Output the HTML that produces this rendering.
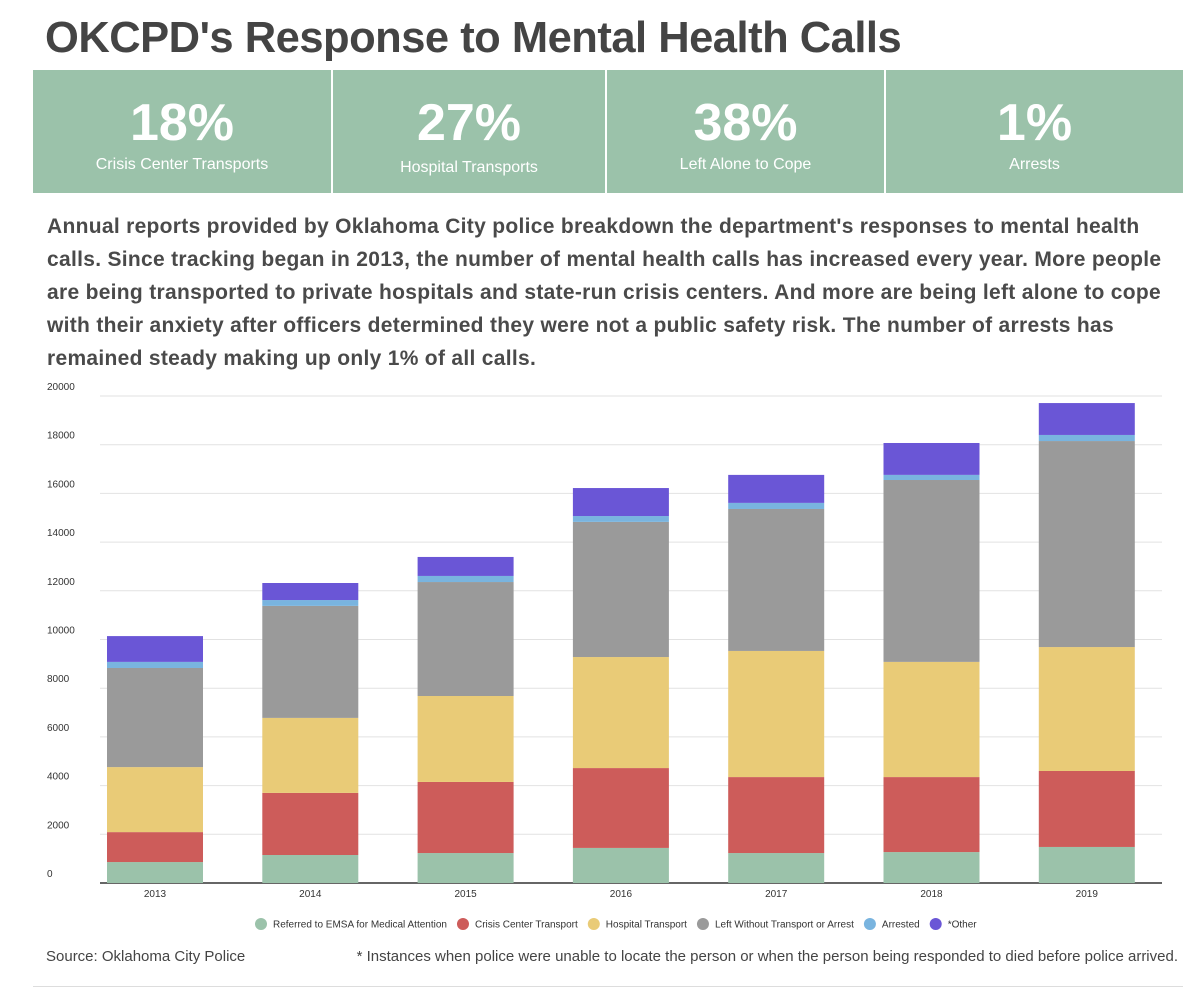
<!DOCTYPE html>
<html><head><meta charset="utf-8"><style>
body{margin:0;width:1200px;height:988px;background:#fff;font-family:"Liberation Sans",sans-serif;color:#444;position:relative;overflow:hidden}
#title{position:absolute;left:45px;top:14px;font-size:43.5px;font-weight:bold;margin:0;letter-spacing:-0.5px}
#panel{position:absolute;left:33px;top:70px;width:1150px;height:123px;background:#9bc2aa;display:flex}
.stat{border-left:2px solid #fff;color:#fff;text-align:center;box-sizing:border-box}
.stat:first-child{border-left:none}
.big{font-size:52px;font-weight:bold;margin-top:24px;line-height:58px}
.lab{font-size:16px;margin-top:4px}
#desc{position:absolute;left:47px;top:210px;font-size:21px;line-height:33px;margin:0;white-space:nowrap;letter-spacing:0.3px;font-weight:bold;color:#4a4a4a}
#src{position:absolute;left:46px;top:948px;font-size:15px}
#note{position:absolute;right:22px;top:948px;font-size:15px}
#rule{position:absolute;left:33px;top:986px;width:1150px;height:1px;background:#ddd}
</style></head><body>
<h1 id="title">OKCPD's Response to Mental Health Calls</h1>
<div id="panel">
<div class="stat" style="width:298px"><div class="big">18%</div><div class="lab">Crisis Center Transports</div></div>
<div class="stat" style="width:274px"><div class="big">27%</div><div class="lab" style="margin-top:7px">Hospital Transports</div></div>
<div class="stat" style="width:279px"><div class="big">38%</div><div class="lab">Left Alone to Cope</div></div>
<div class="stat" style="width:299px"><div class="big">1%</div><div class="lab">Arrests</div></div>
</div>
<p id="desc">Annual reports provided by Oklahoma City police breakdown the department's responses to mental health<br>calls. Since tracking began in 2013, the number of mental health calls has increased every year. More people<br>are being transported to private hospitals and state-run crisis centers. And more are being left alone to cope<br>with their anxiety after officers determined they were not a public safety risk. The number of arrests has<br>remained steady making up only 1% of all calls.</p>
<svg id="chart" width="1200" height="988" style="position:absolute;left:0;top:0"></svg>
<div id="src">Source: Oklahoma City Police</div>
<div id="note">* Instances when police were unable to locate the person or when the person being responded to died before police arrived.</div>
<div id="rule"></div>
<script>
const years=["2013","2014","2015","2016","2017","2018","2019"];
const emsa=[860,1150,1230,1440,1230,1270,1480];
const crisis=[1230,2550,2920,3280,3120,3080,3120];
const hospital=[2670,3080,3530,4560,5180,4730,5090];
const leftAlone=[4070,4600,4680,5550,5830,7470,8460];
const arrested=[250,240,250,240,250,210,250];
const other=[1060,700,780,1150,1150,1310,1310];
const yTicks=[0,2000,4000,6000,8000,10000,12000,14000,16000,18000,20000];
const seriesNames=["Referred to EMSA for Medical Attention","Crisis Center Transport","Hospital Transport","Left Without Transport or Arrest","Arrested","*Other"];
const series=[emsa,crisis,hospital,leftAlone,arrested,other];
const colors=["#9bc2aa","#cd5c5a","#e9cb77","#9a9a9a","#79b4df","#6a56d6"];
const svg=document.getElementById('chart');const NS="http://www.w3.org/2000/svg";
const y0=883,y1=396,vmax=20000,x0=100,x1=1162;
const Y=v=>y0-(v/vmax)*(y0-y1);
const step=155.3,bw=96,cx0=155;
const X=i=>cx0+i*step;
function mk(t,a,p){const e=document.createElementNS(NS,t);for(const k in a)e.setAttribute(k,a[k]);(p||svg).appendChild(e);return e;}
yTicks.forEach(v=>{
 const g=mk('line',{x1:x0,x2:x1,y1:Y(v),y2:Y(v),stroke:v===0?'#333':'#e2e2e2','stroke-width':v===0?1.5:1});
 
 
 const t=mk('text',{x:47,y:Y(v)-6,'font-size':10,fill:'#333','font-family':'Liberation Sans'});t.textContent=v;
 
 
});
years.forEach((yr,i)=>{
 let acc=0;
 series.forEach((s,j)=>{
  const r=mk('rect',{x:X(i)-bw/2,y:Y(acc+s[i]),width:bw,height:Y(acc)-Y(acc+s[i]),fill:colors[j]});
  
  
  acc+=s[i];
 });
 const t=mk('text',{x:X(i),y:897,'font-size':10,fill:'#333','text-anchor':'middle','font-family':'Liberation Sans'});t.textContent=yr;
 
 
});
let lx=255;
seriesNames.forEach((n,j)=>{
 const c=mk('circle',{cx:lx+6,cy:924,r:6,fill:colors[j]});
 
 
 const t=mk('text',{x:lx+18,y:927.5,'font-size':10,fill:'#333','font-family':'Liberation Sans'});t.textContent=n;
 
 
 lx+=18+t.getComputedTextLength()+10;
});
</script>
</body></html>
